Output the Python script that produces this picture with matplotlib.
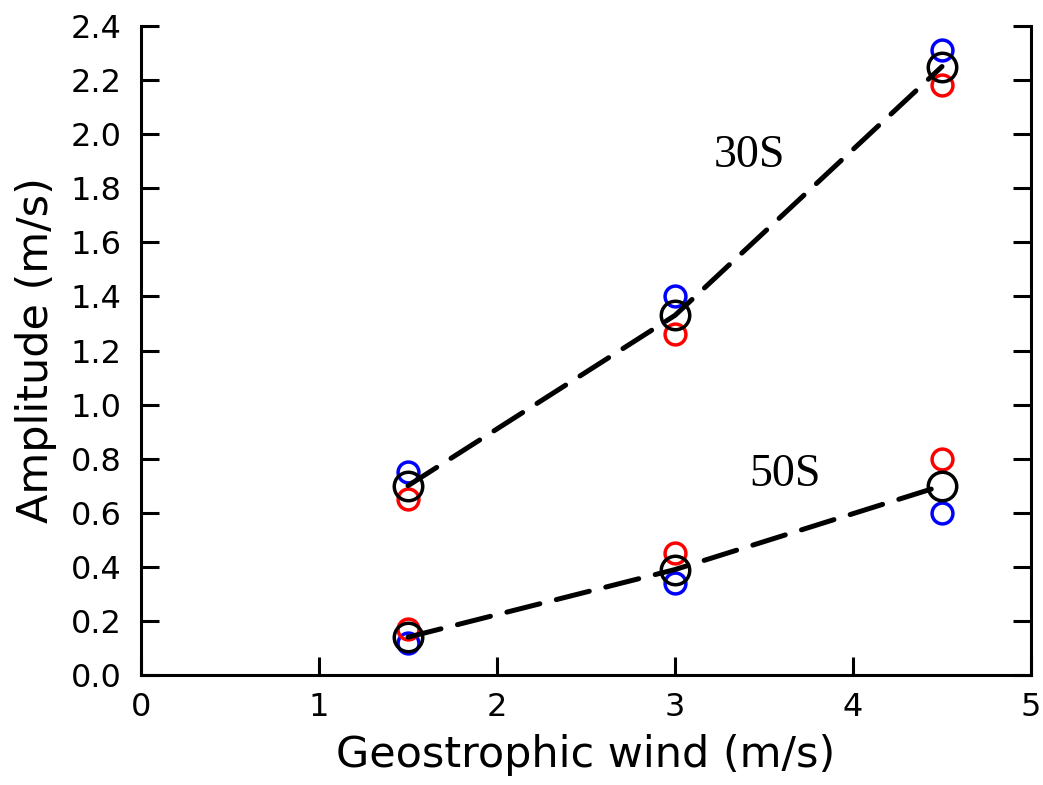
import matplotlib
matplotlib.use("Agg")
import matplotlib.pyplot as plt

# geostrophic wind speeds
wind = [1.5, 3.0, 4.5]

# 30S amplitudes
amp30_mean = [0.70, 1.33, 2.25]
amp30_blue = [0.75, 1.40, 2.31]
amp30_red = [0.65, 1.26, 2.18]

# 50S amplitudes
amp50_mean = [0.14, 0.39, 0.70]
amp50_blue = [0.12, 0.34, 0.60]
amp50_red = [0.17, 0.45, 0.80]

fig = plt.figure(figsize=(10.43, 7.85), dpi=100)
ax = fig.add_axes([0.1352, 0.1401, 0.8533, 0.8268])

for mean, blue, red in [(amp30_mean, amp30_blue, amp30_red),
                        (amp50_mean, amp50_blue, amp50_red)]:
    ax.plot(wind, blue, 'o', ms=15, mfc='none', mec='blue', mew=2.5, zorder=2)
    ax.plot(wind, red, 'o', ms=15, mfc='none', mec='red', mew=2.5, zorder=2)
    ax.plot(wind, mean, 'o', ms=20.5, mfc='none', mec='black', mew=2.5, zorder=3)
    ax.plot(wind, mean, color='black', lw=3.6, dashes=(6.8, 3.4),
            dash_capstyle='round', zorder=4)

ax.text(3.42, 1.92, "30S", family="Liberation Serif", fontsize=33, ha='center', va='center')
ax.text(3.62, 0.74, "50S", family="Liberation Serif", fontsize=33, ha='center', va='center')

ax.set_xlim(0, 5)
ax.set_ylim(0, 2.4)
ax.set_xticks([0, 1, 2, 3, 4, 5])
ax.set_yticks([0.0, 0.2, 0.4, 0.6, 0.8, 1.0, 1.2, 1.4, 1.6, 1.8, 2.0, 2.2, 2.4])
ax.set_yticklabels(["%.1f" % v for v in ax.get_yticks()])

ax.spines['top'].set_visible(False)
for s in ['left', 'right', 'bottom']:
    ax.spines[s].set_linewidth(2.2)
ax.tick_params(direction='in', length=13, width=2.2, labelsize=23, right=True)
ax.tick_params(axis='y', pad=14)
ax.tick_params(axis='x', pad=12)

ax.set_xlabel("Geostrophic wind (m/s)", fontsize=31, labelpad=8)
ax.set_ylabel("Amplitude (m/s)", fontsize=31, labelpad=10)

fig.savefig("out.png", dpi=100)
